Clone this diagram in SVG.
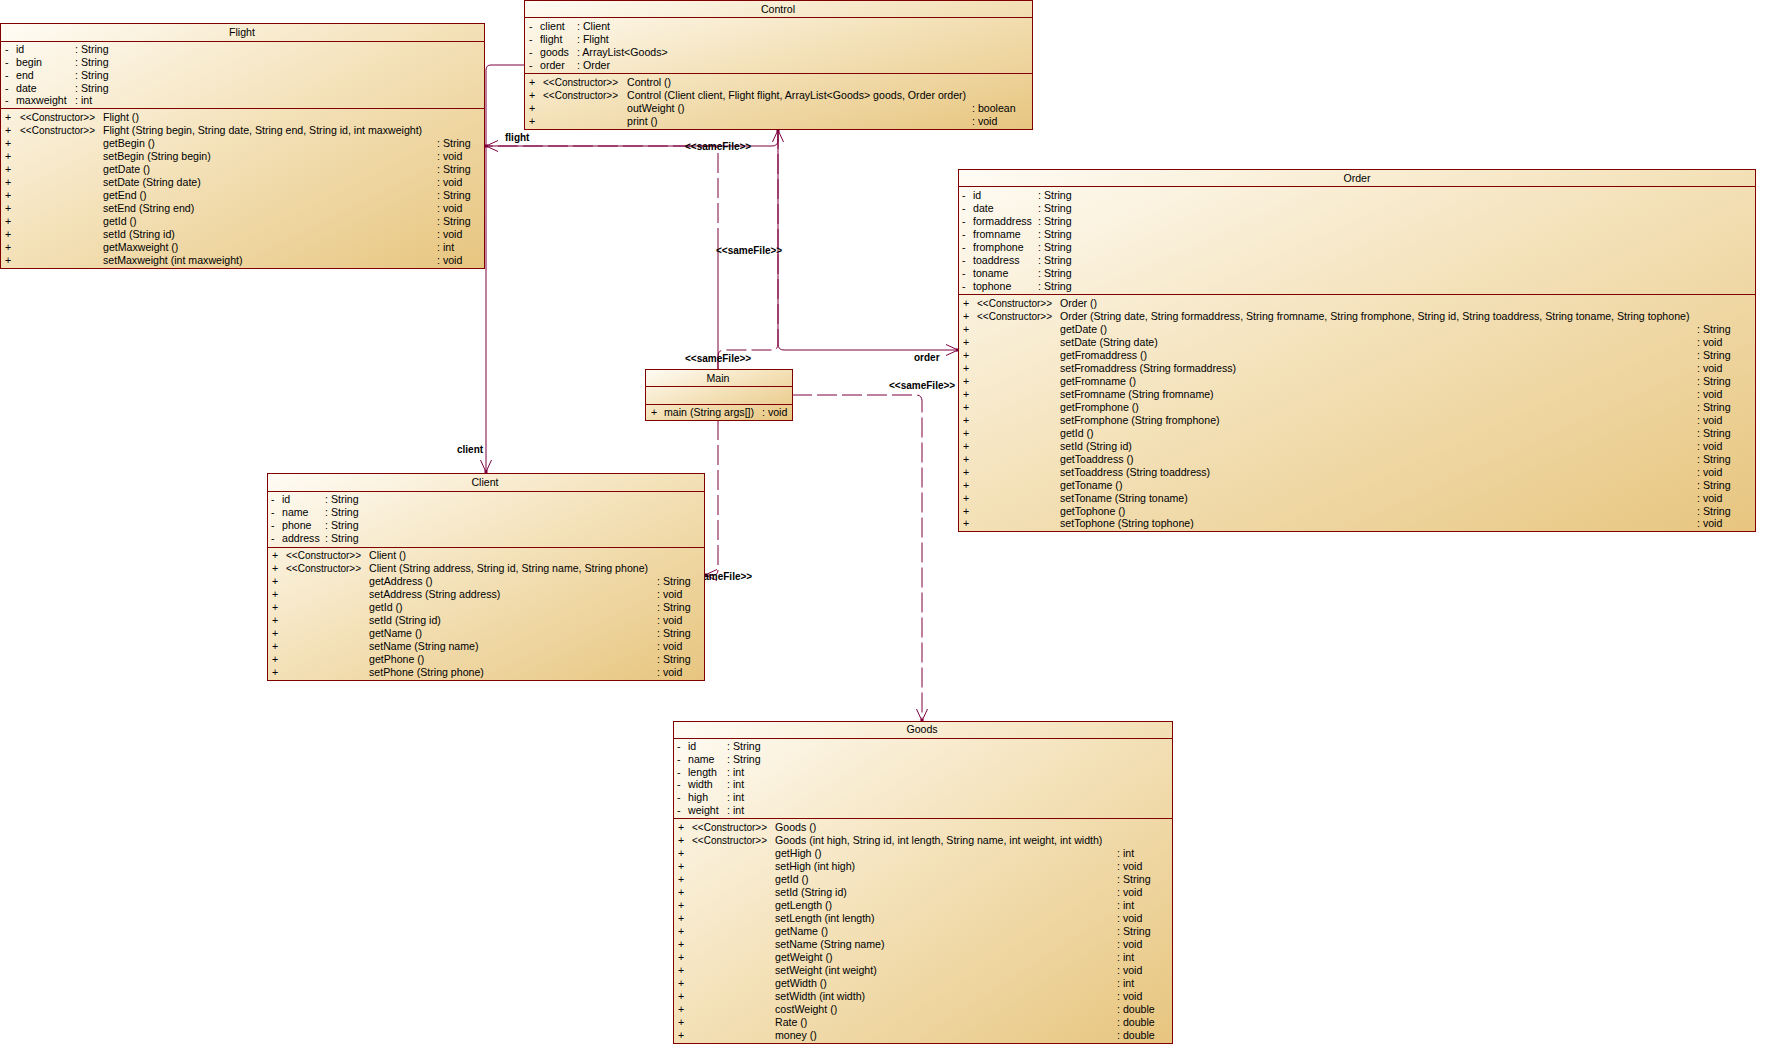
<svg xmlns="http://www.w3.org/2000/svg" width="1772" height="1056" viewBox="0 0 1772 1056">
<defs>
<linearGradient id="bg" x1="0" y1="0" x2="1" y2="1">
<stop offset="0" stop-color="#fffcf5"/>
<stop offset="0.5" stop-color="#f3e0b6"/>
<stop offset="1" stop-color="#e7c57f"/>
</linearGradient>
<marker id="open" markerUnits="userSpaceOnUse" markerWidth="16" markerHeight="14" refX="13" refY="7" orient="auto" overflow="visible">
<path d="M1,1.5 L13,7 L1,12.5" fill="none" stroke="#7f003f" stroke-width="1"/>
<rect x="11" y="5.5" width="3" height="3" fill="#7f003f"/>
</marker>
</defs>
<style>
.box{fill:url(#bg);stroke:#800000;stroke-width:1}
.sep{stroke:#800000;stroke-width:1}
.t{font-family:"Liberation Sans",Arial,sans-serif;font-size:10.6px;fill:#000}
.c{text-anchor:middle}
.lbl{font-family:"Liberation Sans",Arial,sans-serif;font-size:10px;font-weight:bold;fill:#000}
.conn{fill:none;stroke:#7f003f;stroke-width:1}
.dash{stroke-dasharray:20 5}
</style>
<rect width="1772" height="1056" fill="#fff"/>

<g id="connectors">
<g id="assoc-control-client">
<path class="conn" d="M524,65 H491 Q486,65 486,70 V472" marker-end="url(#open)"/>
<text class="lbl" x="457" y="453">client</text>
</g>
<g id="assoc-control-flight">
<path class="conn" d="M778,130 V140 Q778,146 772,146 H486" marker-end="url(#open)"/>
<text class="lbl" x="505" y="141">flight</text>
</g>
<g id="assoc-control-order">
<path class="conn" d="M778,130 V344 Q778,350 784,350 H958" marker-end="url(#open)"/>
<text class="lbl" x="914" y="361">order</text>
</g>
<g id="dep-main-flight">
<path class="conn" d="M718,369 V248"/>
<path class="conn dash" d="M718,248 V151 Q718,146 713,146 H486"/>
<text class="lbl" x="685" y="149.5">&lt;&lt;sameFile&gt;&gt;</text>
</g>
<g id="dep-main-control">
<path class="conn dash" d="M718,369 V356 Q718,350 724,350 H772 Q778,350 778,344 V130" marker-end="url(#open)"/>
<text class="lbl" x="716" y="253.5">&lt;&lt;sameFile&gt;&gt;</text>
</g>
<g id="dep-main-order">
<text class="lbl" x="685" y="362">&lt;&lt;sameFile&gt;&gt;</text>
</g>
<g id="dep-main-goods">
<path class="conn dash" d="M792,395 H916 Q922,395 922,401 V721" marker-end="url(#open)"/>
<text class="lbl" x="889" y="389">&lt;&lt;sameFile&gt;&gt;</text>
</g>
<g id="dep-main-client">
<path class="conn dash" d="M718,420 V570 Q718,575 713,575 H705" marker-end="url(#open)"/>
<text class="lbl" x="686" y="580">&lt;&lt;sameFile&gt;&gt;</text>
</g>
</g>

<g id="node-Flight">
<rect class="box" x="0.5" y="23.5" width="484" height="245"/>
<line class="sep" x1="0.5" y1="41.5" x2="484.5" y2="41.5"/>
<line class="sep" x1="0.5" y1="108.5" x2="484.5" y2="108.5"/>
<text class="t c" x="242" y="36">Flight</text>
<g class="t">
<text x="5" y="53">-</text><text x="16" y="53">id</text><text x="75" y="53">: String</text>
<text x="5" y="66">-</text><text x="16" y="66">begin</text><text x="75" y="66">: String</text>
<text x="5" y="78.5">-</text><text x="16" y="78.5">end</text><text x="75" y="78.5">: String</text>
<text x="5" y="91.5">-</text><text x="16" y="91.5">date</text><text x="75" y="91.5">: String</text>
<text x="5" y="104">-</text><text x="16" y="104">maxweight</text><text x="75" y="104">: int</text>
<text x="5" y="121">+</text><text x="20" y="121" textLength="75" lengthAdjust="spacingAndGlyphs">&lt;&lt;Constructor&gt;&gt;</text><text x="103" y="121">Flight ()</text>
<text x="5" y="134">+</text><text x="20" y="134" textLength="75" lengthAdjust="spacingAndGlyphs">&lt;&lt;Constructor&gt;&gt;</text><text x="103" y="134">Flight (String begin, String date, String end, String id, int maxweight)</text>
<text x="5" y="147">+</text><text x="103" y="147">getBegin ()</text><text x="437" y="147">: String</text>
<text x="5" y="160">+</text><text x="103" y="160">setBegin (String begin)</text><text x="437" y="160">: void</text>
<text x="5" y="173">+</text><text x="103" y="173">getDate ()</text><text x="437" y="173">: String</text>
<text x="5" y="186">+</text><text x="103" y="186">setDate (String date)</text><text x="437" y="186">: void</text>
<text x="5" y="199">+</text><text x="103" y="199">getEnd ()</text><text x="437" y="199">: String</text>
<text x="5" y="212">+</text><text x="103" y="212">setEnd (String end)</text><text x="437" y="212">: void</text>
<text x="5" y="225">+</text><text x="103" y="225">getId ()</text><text x="437" y="225">: String</text>
<text x="5" y="238">+</text><text x="103" y="238">setId (String id)</text><text x="437" y="238">: void</text>
<text x="5" y="251">+</text><text x="103" y="251">getMaxweight ()</text><text x="437" y="251">: int</text>
<text x="5" y="264">+</text><text x="103" y="264">setMaxweight (int maxweight)</text><text x="437" y="264">: void</text>
</g>
</g>

<g id="node-Control">
<rect class="box" x="524.5" y="0.5" width="508" height="129"/>
<line class="sep" x1="524.5" y1="17.5" x2="1032.5" y2="17.5"/>
<line class="sep" x1="524.5" y1="73.5" x2="1032.5" y2="73.5"/>
<text class="t c" x="778" y="13">Control</text>
<g class="t">
<text x="529" y="30">-</text><text x="540" y="30">client</text><text x="577" y="30">: Client</text>
<text x="529" y="43">-</text><text x="540" y="43">flight</text><text x="577" y="43">: Flight</text>
<text x="529" y="55.5">-</text><text x="540" y="55.5">goods</text><text x="577" y="55.5">: ArrayList&lt;Goods&gt;</text>
<text x="529" y="68.5">-</text><text x="540" y="68.5">order</text><text x="577" y="68.5">: Order</text>
<text x="529" y="86">+</text><text x="543" y="86" textLength="75" lengthAdjust="spacingAndGlyphs">&lt;&lt;Constructor&gt;&gt;</text><text x="627" y="86">Control ()</text>
<text x="529" y="99">+</text><text x="543" y="99" textLength="75" lengthAdjust="spacingAndGlyphs">&lt;&lt;Constructor&gt;&gt;</text><text x="627" y="99">Control (Client client, Flight flight, ArrayList&lt;Goods&gt; goods, Order order)</text>
<text x="529" y="111.5">+</text><text x="627" y="111.5">outWeight ()</text><text x="972" y="111.5">: boolean</text>
<text x="529" y="124.5">+</text><text x="627" y="124.5">print ()</text><text x="972" y="124.5">: void</text>
</g>
</g>

<g id="node-Order">
<rect class="box" x="958.5" y="169.5" width="797" height="362"/>
<line class="sep" x1="958.5" y1="186.5" x2="1755.5" y2="186.5"/>
<line class="sep" x1="958.5" y1="294.5" x2="1755.5" y2="294.5"/>
<text class="t c" x="1357" y="182">Order</text>
<g class="t">
<text x="962" y="199">-</text><text x="973" y="199">id</text><text x="1038" y="199">: String</text>
<text x="962" y="212">-</text><text x="973" y="212">date</text><text x="1038" y="212">: String</text>
<text x="962" y="225">-</text><text x="973" y="225">formaddress</text><text x="1038" y="225">: String</text>
<text x="962" y="238">-</text><text x="973" y="238">fromname</text><text x="1038" y="238">: String</text>
<text x="962" y="251">-</text><text x="973" y="251">fromphone</text><text x="1038" y="251">: String</text>
<text x="962" y="264">-</text><text x="973" y="264">toaddress</text><text x="1038" y="264">: String</text>
<text x="962" y="277">-</text><text x="973" y="277">toname</text><text x="1038" y="277">: String</text>
<text x="962" y="290">-</text><text x="973" y="290">tophone</text><text x="1038" y="290">: String</text>
<text x="963" y="307">+</text><text x="977" y="307" textLength="75" lengthAdjust="spacingAndGlyphs">&lt;&lt;Constructor&gt;&gt;</text><text x="1060" y="307">Order ()</text>
<text x="963" y="320">+</text><text x="977" y="320" textLength="75" lengthAdjust="spacingAndGlyphs">&lt;&lt;Constructor&gt;&gt;</text><text x="1060" y="320">Order (String date, String formaddress, String fromname, String fromphone, String id, String toaddress, String toname, String tophone)</text>
<text x="963" y="333">+</text><text x="1060" y="333">getDate ()</text><text x="1697" y="333">: String</text>
<text x="963" y="346">+</text><text x="1060" y="346">setDate (String date)</text><text x="1697" y="346">: void</text>
<text x="963" y="359">+</text><text x="1060" y="359">getFromaddress ()</text><text x="1697" y="359">: String</text>
<text x="963" y="372">+</text><text x="1060" y="372">setFromaddress (String formaddress)</text><text x="1697" y="372">: void</text>
<text x="963" y="385">+</text><text x="1060" y="385">getFromname ()</text><text x="1697" y="385">: String</text>
<text x="963" y="398">+</text><text x="1060" y="398">setFromname (String fromname)</text><text x="1697" y="398">: void</text>
<text x="963" y="411">+</text><text x="1060" y="411">getFromphone ()</text><text x="1697" y="411">: String</text>
<text x="963" y="424">+</text><text x="1060" y="424">setFromphone (String fromphone)</text><text x="1697" y="424">: void</text>
<text x="963" y="436.5">+</text><text x="1060" y="436.5">getId ()</text><text x="1697" y="436.5">: String</text>
<text x="963" y="449.5">+</text><text x="1060" y="449.5">setId (String id)</text><text x="1697" y="449.5">: void</text>
<text x="963" y="462.5">+</text><text x="1060" y="462.5">getToaddress ()</text><text x="1697" y="462.5">: String</text>
<text x="963" y="475.5">+</text><text x="1060" y="475.5">setToaddress (String toaddress)</text><text x="1697" y="475.5">: void</text>
<text x="963" y="488.5">+</text><text x="1060" y="488.5">getToname ()</text><text x="1697" y="488.5">: String</text>
<text x="963" y="501.5">+</text><text x="1060" y="501.5">setToname (String toname)</text><text x="1697" y="501.5">: void</text>
<text x="963" y="514.5">+</text><text x="1060" y="514.5">getTophone ()</text><text x="1697" y="514.5">: String</text>
<text x="963" y="527">+</text><text x="1060" y="527">setTophone (String tophone)</text><text x="1697" y="527">: void</text>
</g>
</g>

<g id="node-Main">
<rect class="box" x="645.5" y="369.5" width="147" height="51"/>
<line class="sep" x1="645.5" y1="386.5" x2="792.5" y2="386.5"/>
<line class="sep" x1="645.5" y1="404.5" x2="792.5" y2="404.5"/>
<text class="t c" x="718" y="382">Main</text>
<g class="t">
<text x="651" y="416">+</text><text x="664" y="416">main (String args[])</text><text x="762" y="416">: void</text>
</g>
</g>

<g id="node-Client">
<rect class="box" x="267.5" y="473.5" width="437" height="207"/>
<line class="sep" x1="267.5" y1="491.5" x2="704.5" y2="491.5"/>
<line class="sep" x1="267.5" y1="547.5" x2="704.5" y2="547.5"/>
<text class="t c" x="485" y="486">Client</text>
<g class="t">
<text x="271" y="503">-</text><text x="282" y="503">id</text><text x="325" y="503">: String</text>
<text x="271" y="516">-</text><text x="282" y="516">name</text><text x="325" y="516">: String</text>
<text x="271" y="529">-</text><text x="282" y="529">phone</text><text x="325" y="529">: String</text>
<text x="271" y="542">-</text><text x="282" y="542">address</text><text x="325" y="542">: String</text>
<text x="272" y="559">+</text><text x="286" y="559" textLength="75" lengthAdjust="spacingAndGlyphs">&lt;&lt;Constructor&gt;&gt;</text><text x="369" y="559">Client ()</text>
<text x="272" y="572">+</text><text x="286" y="572" textLength="75" lengthAdjust="spacingAndGlyphs">&lt;&lt;Constructor&gt;&gt;</text><text x="369" y="572">Client (String address, String id, String name, String phone)</text>
<text x="272" y="585">+</text><text x="369" y="585">getAddress ()</text><text x="657" y="585">: String</text>
<text x="272" y="598">+</text><text x="369" y="598">setAddress (String address)</text><text x="657" y="598">: void</text>
<text x="272" y="611">+</text><text x="369" y="611">getId ()</text><text x="657" y="611">: String</text>
<text x="272" y="624">+</text><text x="369" y="624">setId (String id)</text><text x="657" y="624">: void</text>
<text x="272" y="637">+</text><text x="369" y="637">getName ()</text><text x="657" y="637">: String</text>
<text x="272" y="650">+</text><text x="369" y="650">setName (String name)</text><text x="657" y="650">: void</text>
<text x="272" y="663">+</text><text x="369" y="663">getPhone ()</text><text x="657" y="663">: String</text>
<text x="272" y="676">+</text><text x="369" y="676">setPhone (String phone)</text><text x="657" y="676">: void</text>
</g>
</g>

<g id="node-Goods">
<rect class="box" x="673.5" y="721.5" width="499" height="322"/>
<line class="sep" x1="673.5" y1="738.5" x2="1172.5" y2="738.5"/>
<line class="sep" x1="673.5" y1="818.5" x2="1172.5" y2="818.5"/>
<text class="t c" x="922" y="733">Goods</text>
<g class="t">
<text x="677" y="750">-</text><text x="688" y="750">id</text><text x="727" y="750">: String</text>
<text x="677" y="762.5">-</text><text x="688" y="762.5">name</text><text x="727" y="762.5">: String</text>
<text x="677" y="775.5">-</text><text x="688" y="775.5">length</text><text x="727" y="775.5">: int</text>
<text x="677" y="788">-</text><text x="688" y="788">width</text><text x="727" y="788">: int</text>
<text x="677" y="801">-</text><text x="688" y="801">high</text><text x="727" y="801">: int</text>
<text x="677" y="814">-</text><text x="688" y="814">weight</text><text x="727" y="814">: int</text>
<text x="678" y="831">+</text><text x="692" y="831" textLength="75" lengthAdjust="spacingAndGlyphs">&lt;&lt;Constructor&gt;&gt;</text><text x="775" y="831">Goods ()</text>
<text x="678" y="844">+</text><text x="692" y="844" textLength="75" lengthAdjust="spacingAndGlyphs">&lt;&lt;Constructor&gt;&gt;</text><text x="775" y="844">Goods (int high, String id, int length, String name, int weight, int width)</text>
<text x="678" y="857">+</text><text x="775" y="857">getHigh ()</text><text x="1117" y="857">: int</text>
<text x="678" y="870">+</text><text x="775" y="870">setHigh (int high)</text><text x="1117" y="870">: void</text>
<text x="678" y="883">+</text><text x="775" y="883">getId ()</text><text x="1117" y="883">: String</text>
<text x="678" y="896">+</text><text x="775" y="896">setId (String id)</text><text x="1117" y="896">: void</text>
<text x="678" y="909">+</text><text x="775" y="909">getLength ()</text><text x="1117" y="909">: int</text>
<text x="678" y="922">+</text><text x="775" y="922">setLength (int length)</text><text x="1117" y="922">: void</text>
<text x="678" y="935">+</text><text x="775" y="935">getName ()</text><text x="1117" y="935">: String</text>
<text x="678" y="948">+</text><text x="775" y="948">setName (String name)</text><text x="1117" y="948">: void</text>
<text x="678" y="961">+</text><text x="775" y="961">getWeight ()</text><text x="1117" y="961">: int</text>
<text x="678" y="974">+</text><text x="775" y="974">setWeight (int weight)</text><text x="1117" y="974">: void</text>
<text x="678" y="987">+</text><text x="775" y="987">getWidth ()</text><text x="1117" y="987">: int</text>
<text x="678" y="1000">+</text><text x="775" y="1000">setWidth (int width)</text><text x="1117" y="1000">: void</text>
<text x="678" y="1013">+</text><text x="775" y="1013">costWeight ()</text><text x="1117" y="1013">: double</text>
<text x="678" y="1026">+</text><text x="775" y="1026">Rate ()</text><text x="1117" y="1026">: double</text>
<text x="678" y="1039">+</text><text x="775" y="1039">money ()</text><text x="1117" y="1039">: double</text>
</g>
</g>
</svg>
